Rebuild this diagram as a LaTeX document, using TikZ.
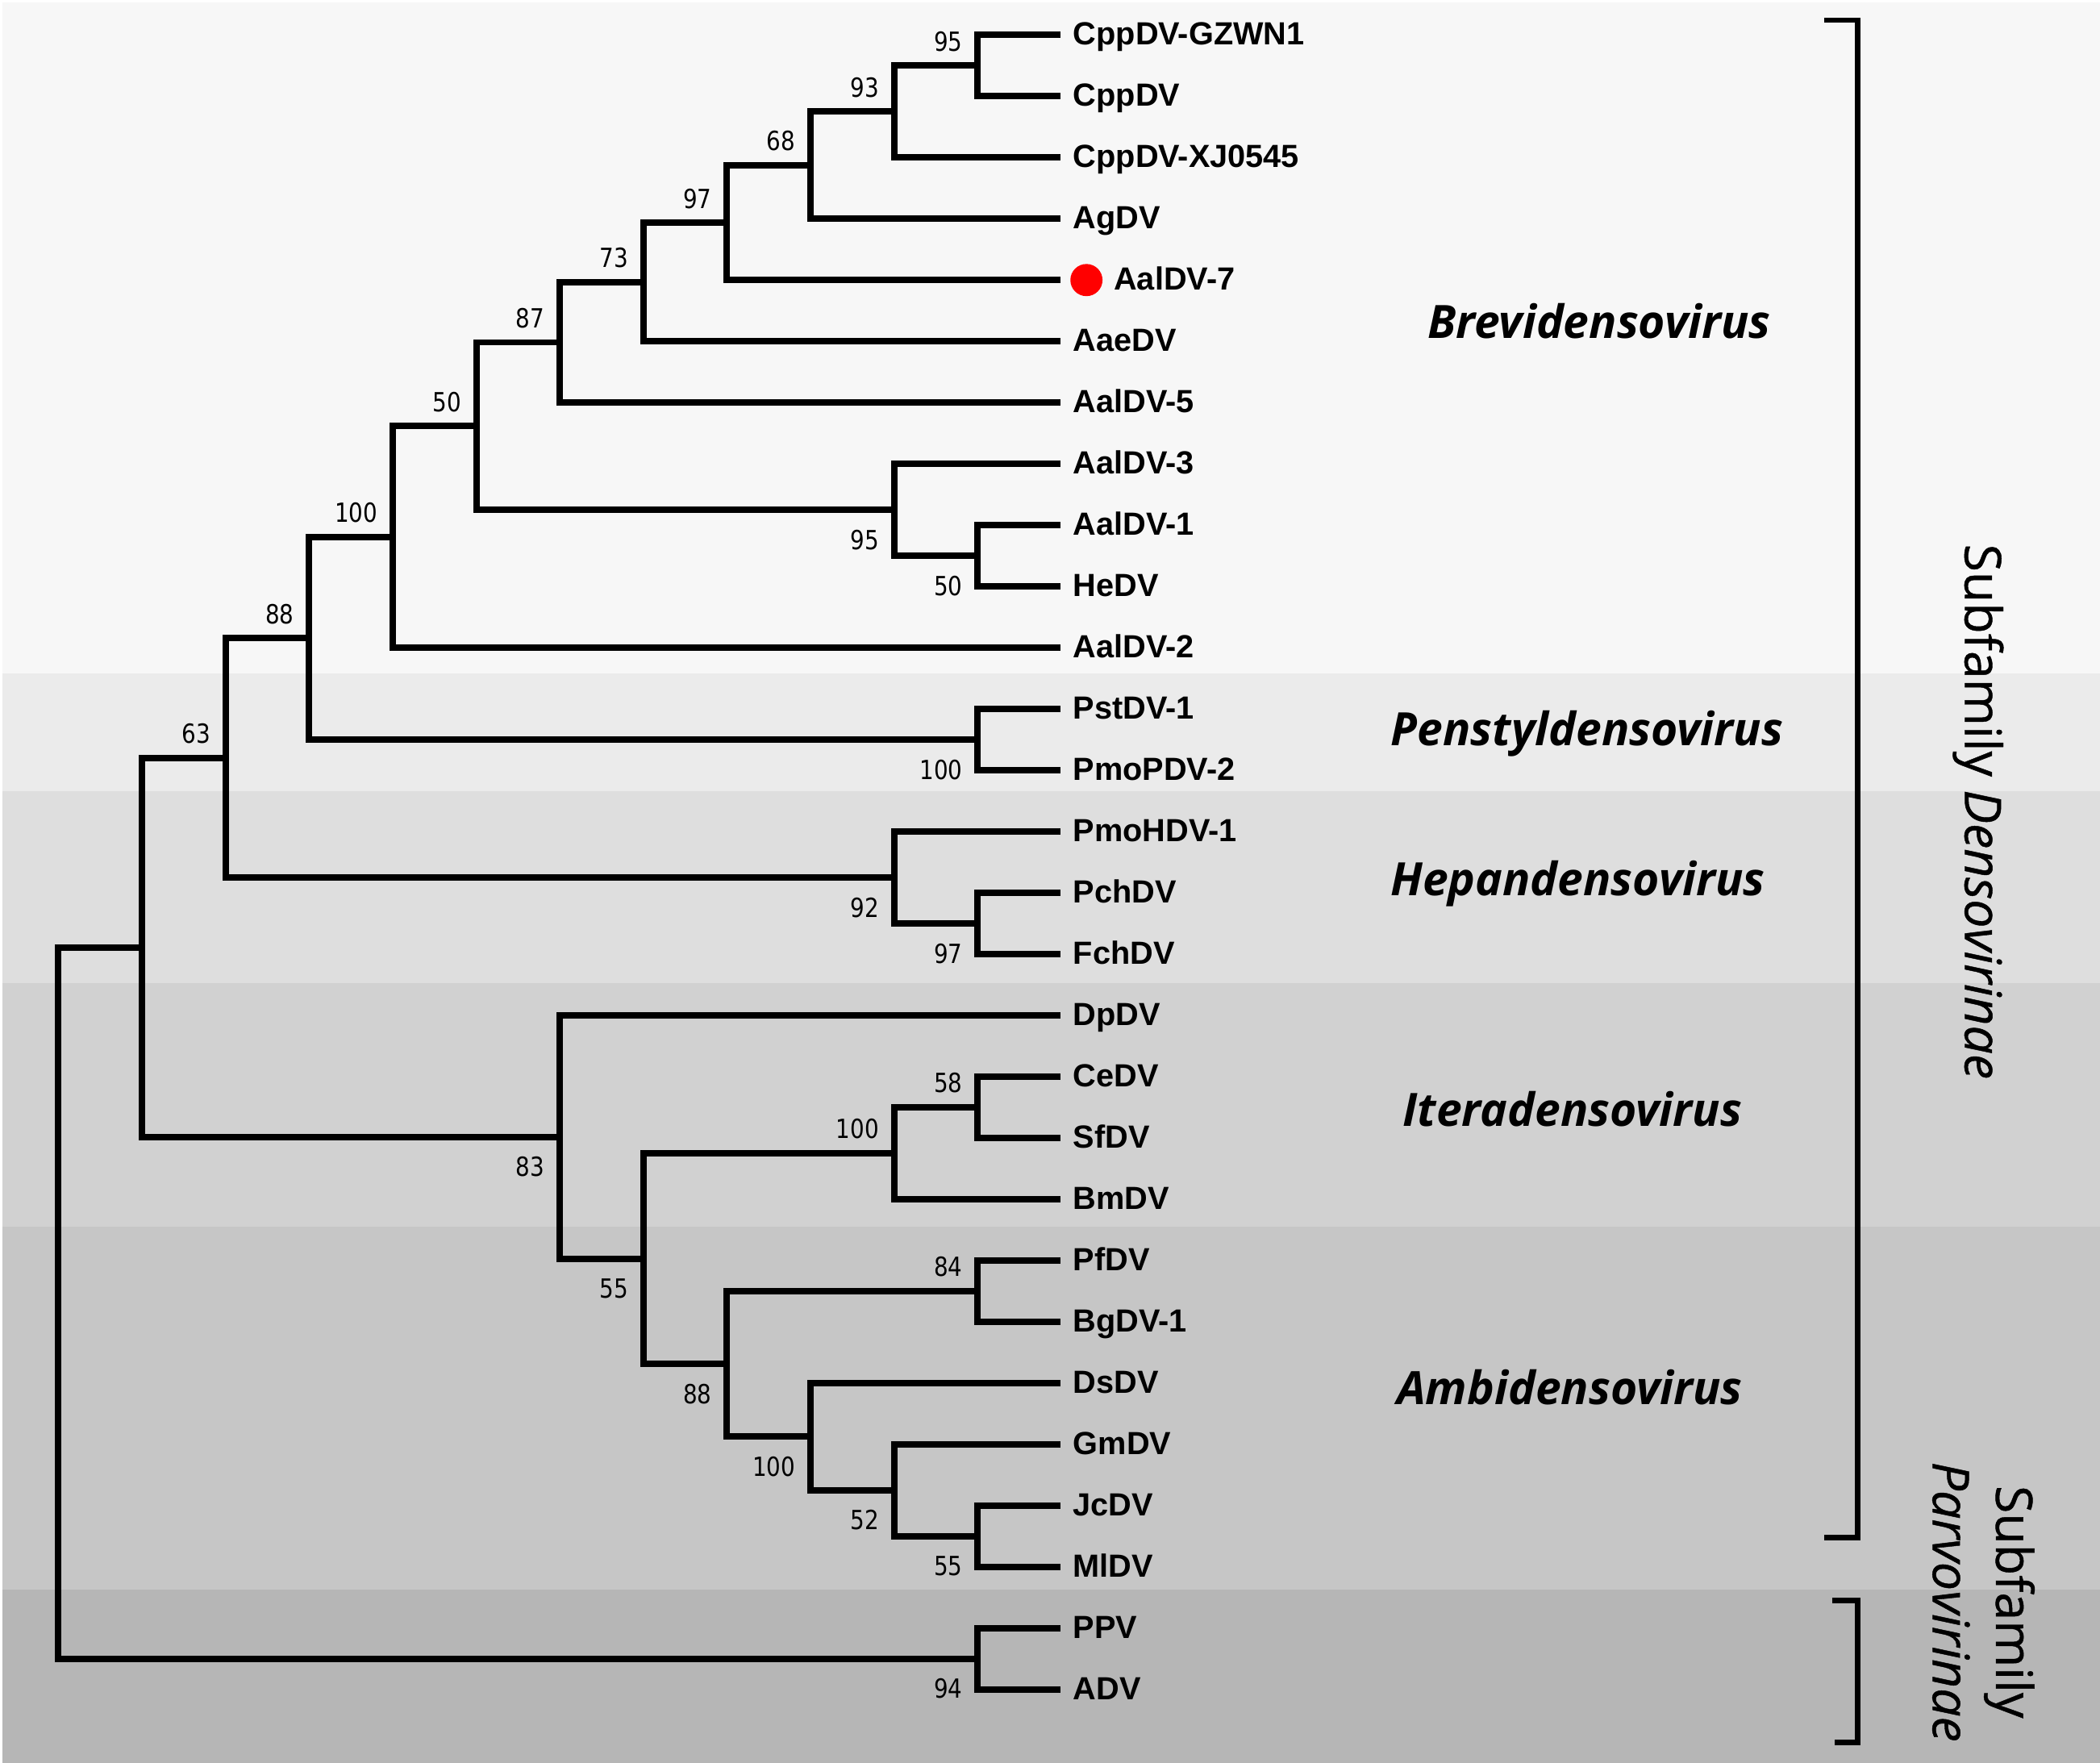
\documentclass[tikz,border=0pt]{standalone}
\usepackage{fontspec}
\usepackage{tikz}

\setmainfont{Liberation Sans}
\newfontfamily\bootfont[FakeStretch=0.85]{DejaVu Sans}
\newfontfamily\cladefont{Open Sans}
\newfontfamily\subfamfont[FakeBold=0.7]{Open Sans}

\definecolor{bandbrevi}{HTML}{F7F7F7}
\definecolor{bandpensty}{HTML}{EBEBEB}
\definecolor{bandhepan}{HTML}{DEDEDE}
\definecolor{banditera}{HTML}{D1D1D1}
\definecolor{bandambi}{HTML}{C6C6C6}
\definecolor{bandparvo}{HTML}{B6B6B6}

\begin{document}
\begin{tikzpicture}[x=0.125mm, y=-0.125mm,
    branch/.style={line width=1.7pt},
    bracket/.style={line width=1.4pt},
    leaf/.style={anchor=west, inner xsep=1.1mm, inner ysep=0pt,
        text height=6.6pt, text depth=1.25pt,
        font=\bfseries\fontsize{8.5}{10}\selectfont},
    reddot/.style={circle, fill=red, minimum size=3mm, inner sep=0pt},
    boot/.style={anchor=east, inner sep=0pt, font=\bootfont\fontsize{7}{8}\selectfont},
    bsup/.style={boot, xshift=-1.35mm, yshift=2.25mm},
    bsdn/.style={boot, xshift=-1.35mm, yshift=-2.8mm},
    clade/.style={font=\cladefont\bfseries\itshape\fontsize{12.2}{14}\selectfont},
    subfam/.style={font=\subfamfont\fontsize{13.4}{16.8}\selectfont, rotate=-90, align=center}
]

    \useasboundingbox (0,0) rectangle (1568,1316);
    \fill[white] (0,0) rectangle (1568,1316);

    % genus bands
    \fill[bandbrevi]  (2,2)    rectangle (1568,503);
    \fill[bandpensty] (2,503)  rectangle (1568,591);
    \fill[bandhepan]  (2,591)  rectangle (1568,734);
    \fill[banditera]  (2,734)  rectangle (1568,916);
    \fill[bandambi]   (2,916)  rectangle (1568,1187);
    \fill[bandparvo]  (2,1187) rectangle (1568,1316);

    \node[clade] (brevi)  at (1194,240)  {Brevidensovirus};
    \node[clade] (pensty) at (1185,548)  {Penstyldensovirus};
    \node[clade] (hepan)  at (1178,660)  {Hepandensovirus};
    \node[clade] (itera)  at (1174,828)  {Iteradensovirus};
    \node[clade] (ambi)   at (1172,1036) {Ambidensovirus};

    % subfamilies
    \draw[bracket] (1362,15) -- (1387,15) -- (1387,1148) -- (1362,1148);
    \draw[bracket] (1368,1195) -- (1387,1195) -- (1387,1301) -- (1370,1301);
    \node[subfam] (denso) at (1477,606) {Subfamily \textit{Densovirinae}};
    \node[subfam] (parvo) at (1481,1196) {Subfamily\\\textit{Parvovirinae}};

    \begin{scope}[yshift=-0.2mm]
    % taxa
    \foreach \lbl [count=\i from 0] in {CppDV-GZWN1, CppDV, CppDV-XJ0545, AgDV,
        AalDV-7, AaeDV, AalDV-5, AalDV-3, AalDV-1, HeDV, AalDV-2, PstDV-1,
        PmoPDV-2, PmoHDV-1, PchDV, FchDV, DpDV, CeDV, SfDV, BmDV, PfDV,
        BgDV-1, DsDV, GmDV, JcDV, MlDV, PPV, ADV}
        \node[leaf] (\lbl) at (792,{24.5+45.75*\i}) {\ifnum\i=4 \hspace{3.8mm}\fi\lbl};
    \node[reddot] (dot) at ([xshift=2.4mm]AalDV-7.west) {};

    % internal nodes
    \coordinate (n95a)  at (730,47.4);
    \coordinate (n93)   at (667.6,81.7);
    \coordinate (n68)   at (605.2,121.7);
    \coordinate (n97a)  at (542.8,164.6);
    \coordinate (n73)   at (480.4,208.9);
    \coordinate (n87)   at (418,254);
    \coordinate (n50a)  at (730,413.4);
    \coordinate (n95b)  at (667.6,379.1);
    \coordinate (n50b)  at (355.6,316.5);
    \coordinate (n100a) at (293.2,399.3);
    \coordinate (n100b) at (730,550.6);
    \coordinate (n88a)  at (230.8,474.9);
    \coordinate (n97b)  at (730,687.9);
    \coordinate (n92)   at (667.6,653.6);
    \coordinate (n63)   at (168.4,564.3);
    \coordinate (n58)   at (730,825.1);
    \coordinate (n100c) at (667.6,859.4);
    \coordinate (n84)   at (730,962.4);
    \coordinate (n55a)  at (730,1145.4);
    \coordinate (n52)   at (667.6,1111.1);
    \coordinate (n100d) at (605.2,1071);
    \coordinate (n88b)  at (542.8,1016.7);
    \coordinate (n55b)  at (480.4,938.1);
    \coordinate (n83)   at (418,847.3);
    \coordinate (nden)  at (106,705.8);
    \coordinate (n94)   at (730,1236.9);
    \coordinate (root)  at (43.6,971.3);

    \draw[branch] (n95a) |- (CppDV-GZWN1);
    \draw[branch] (n95a) |- (CppDV);
    \draw[branch] (n93) |- (n95a);
    \draw[branch] (n93) |- (CppDV-XJ0545);
    \draw[branch] (n68) |- (n93);
    \draw[branch] (n68) |- (AgDV);
    \draw[branch] (n97a) |- (n68);
    \draw[branch] (n97a) |- (AalDV-7);
    \draw[branch] (n73) |- (n97a);
    \draw[branch] (n73) |- (AaeDV);
    \draw[branch] (n87) |- (n73);
    \draw[branch] (n87) |- (AalDV-5);
    \draw[branch] (n50a) |- (AalDV-1);
    \draw[branch] (n50a) |- (HeDV);
    \draw[branch] (n95b) |- (AalDV-3);
    \draw[branch] (n95b) |- (n50a);
    \draw[branch] (n50b) |- (n87);
    \draw[branch] (n50b) |- (n95b);
    \draw[branch] (n100a) |- (n50b);
    \draw[branch] (n100a) |- (AalDV-2);
    \draw[branch] (n100b) |- (PstDV-1);
    \draw[branch] (n100b) |- (PmoPDV-2);
    \draw[branch] (n88a) |- (n100a);
    \draw[branch] (n88a) |- (n100b);
    \draw[branch] (n97b) |- (PchDV);
    \draw[branch] (n97b) |- (FchDV);
    \draw[branch] (n92) |- (PmoHDV-1);
    \draw[branch] (n92) |- (n97b);
    \draw[branch] (n63) |- (n88a);
    \draw[branch] (n63) |- (n92);
    \draw[branch] (n58) |- (CeDV);
    \draw[branch] (n58) |- (SfDV);
    \draw[branch] (n100c) |- (n58);
    \draw[branch] (n100c) |- (BmDV);
    \draw[branch] (n84) |- (PfDV);
    \draw[branch] (n84) |- (BgDV-1);
    \draw[branch] (n55a) |- (JcDV);
    \draw[branch] (n55a) |- (MlDV);
    \draw[branch] (n52) |- (GmDV);
    \draw[branch] (n52) |- (n55a);
    \draw[branch] (n100d) |- (DsDV);
    \draw[branch] (n100d) |- (n52);
    \draw[branch] (n88b) |- (n84);
    \draw[branch] (n88b) |- (n100d);
    \draw[branch] (n55b) |- (n100c);
    \draw[branch] (n55b) |- (n88b);
    \draw[branch] (n83) |- (DpDV);
    \draw[branch] (n83) |- (n55b);
    \draw[branch] (nden) |- (n63);
    \draw[branch] (nden) |- (n83);
    \draw[branch] (n94) |- (PPV);
    \draw[branch] (n94) |- (ADV);
    \draw[branch] (root) |- (nden);
    \draw[branch] (root) |- (n94);

    % bootstrap values
    \node[bsup] (b95a)  at (n95a)  {95};
    \node[bsup] (b93)   at (n93)   {93};
    \node[bsup] (b68)   at (n68)   {68};
    \node[bsup] (b97a)  at (n97a)  {97};
    \node[bsup] (b73)   at (n73)   {73};
    \node[bsup] (b87)   at (n87)   {87};
    \node[bsup] (b50b)  at (n50b)  {50};
    \node[bsup] (b100a) at (n100a) {100};
    \node[bsup] (b88a)  at (n88a)  {88};
    \node[bsup] (b63)   at (n63)   {63};
    \node[bsup] (b58)   at (n58)   {58};
    \node[bsup] (b100c) at (n100c) {100};
    \node[bsup] (b84)   at (n84)   {84};
    \node[bsdn] (b50a)  at (n50a)  {50};
    \node[bsdn] (b95b)  at (n95b)  {95};
    \node[bsdn] (b100b) at (n100b) {100};
    \node[bsdn] (b97b)  at (n97b)  {97};
    \node[bsdn] (b92)   at (n92)   {92};
    \node[bsdn] (b83)   at (n83)   {83};
    \node[bsdn] (b55b)  at (n55b)  {55};
    \node[bsdn] (b88b)  at (n88b)  {88};
    \node[bsdn] (b100d) at (n100d) {100};
    \node[bsdn] (b52)   at (n52)   {52};
    \node[bsdn] (b55a)  at (n55a)  {55};
    \node[bsdn] (b94)   at (n94)   {94};
    \end{scope}

\end{tikzpicture}
\end{document}
